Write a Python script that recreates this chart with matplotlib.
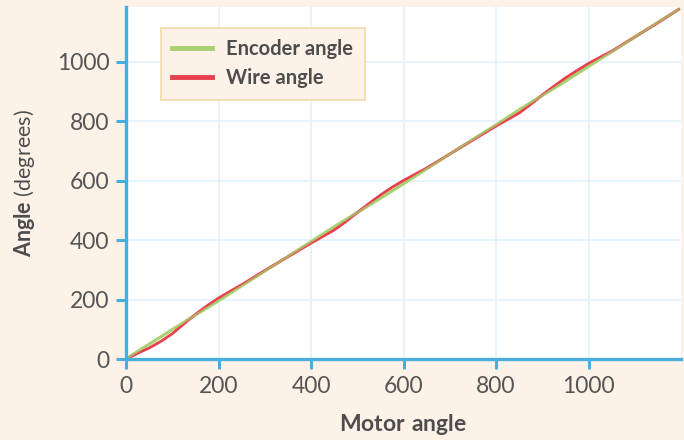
import numpy as np
import matplotlib.pyplot as plt

plt.rcParams['font.family'] = 'Lato'
plt.rcParams['mathtext.fontset'] = 'custom'
plt.rcParams['mathtext.rm'] = 'Lato'
plt.rcParams['mathtext.bf'] = 'Lato:bold'

# Data
enc_x = np.array([0, 50, 100, 150, 200, 250, 300, 350, 400, 450, 500, 550, 600,
                  650, 700, 750, 800, 850, 900, 950, 1000, 1050, 1100, 1150, 1195])
encoder = np.array([0, 50, 99, 148, 196, 246, 296, 345, 395, 445, 493, 541, 590,
                    640, 690, 739, 788, 839, 887, 935, 985, 1034, 1084, 1133, 1177])

wire_x = np.array([0, 25, 50, 75, 100, 125, 150, 175, 200, 225, 250, 300, 350, 400,
                   425, 450, 475, 500, 525, 550, 575, 600, 625, 650, 700, 750, 800,
                   825, 850, 875, 900, 925, 950, 975, 1000, 1025, 1050, 1100, 1150, 1195])
wire = np.array([0, 19, 37, 59, 85, 118, 150, 179, 205, 228, 250, 298, 344, 390,
                 412, 434, 462, 493, 523, 552, 578, 601, 622, 643, 690, 737, 784,
                 806, 828, 857, 889, 918, 946, 971, 995, 1016, 1036, 1084, 1132, 1177])

bg = '#fcf2e7'
blue = '#4aaedd'
text_col = '#4d4d4d'

fig = plt.figure(figsize=(6.84, 4.40), dpi=100, facecolor=bg)
ax = fig.add_axes([126 / 684, 1 - 359 / 440, (681 - 126) / 684, (359 - 7) / 440])
ax.set_facecolor('white')

ax.plot(enc_x, encoder, color='#a9d171', linewidth=2.2, label='Encoder angle')
ax.plot(wire_x, wire, color='#e8404f', linewidth=2.0, label='Wire angle')
# encoder again, lighter, so both lines show where they overlap
ax.plot(enc_x, encoder, color='#a9d171', linewidth=1.6, alpha=0.7)

ax.set_xlim(0, 1200)
ax.set_ylim(0, 1185)
ax.set_xticks([0, 200, 400, 600, 800, 1000])
ax.set_yticks([0, 200, 400, 600, 800, 1000])

ax.grid(True, color='#e3f1fa', linewidth=1.2)
ax.set_axisbelow(True)

for s in ['top', 'right']:
    ax.spines[s].set_visible(False)
for s in ['left', 'bottom']:
    ax.spines[s].set_color(blue)
    ax.spines[s].set_linewidth(2.4)

ax.tick_params(axis='both', colors=blue, length=7, width=2.2,
               labelsize=16.5, labelcolor='#555555', pad=5)

ax.set_xlabel(r'$\bf{Motor\ angle}$', fontsize=16.5, color=text_col, labelpad=11)
ax.set_ylabel(r'$\bf{Angle}$ (degrees)', fontsize=15.5, color=text_col, labelpad=14)

leg = ax.legend(loc='upper left', bbox_to_anchor=(0.045, 0.968), fontsize=14.5,
                frameon=True, fancybox=False, handlelength=2.0,
                borderpad=0.55, labelspacing=0.45, handletextpad=0.7)
leg.get_frame().set_facecolor(bg)
leg.get_frame().set_edgecolor('#f6d8a8')
leg.get_frame().set_linewidth(1.2)
leg.get_frame().set_alpha(1)
for t in leg.get_texts():
    t.set_color(text_col)
    t.set_fontweight('bold')
leg.legend_handles[0].set_linewidth(3.5)
leg.legend_handles[1].set_linewidth(3.5)

plt.savefig('out.png', dpi=100, facecolor=bg)
